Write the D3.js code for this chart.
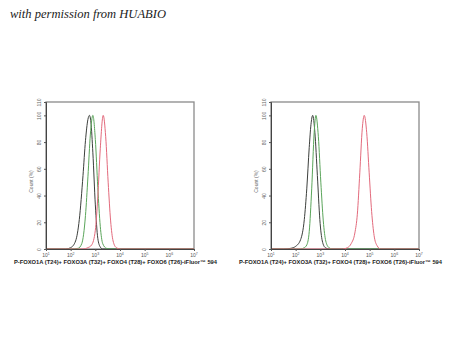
<!DOCTYPE html>
<html><head><meta charset="utf-8">
<script src="https://cdn.jsdelivr.net/npm/d3@7"></script>
<style>body{margin:0;background:#fff}svg{display:block}</style>
</head><body>
<script>
// ---- data (x values are log10 of fluorescence intensity, y = Count %) ----
const titleText = "with permission from HUABIO";
const xAxisTitle = "P-FOXO1A (T24)+ FOXO3A (T32)+ FOXO4 (T28)+ FOXO6 (T26)-iFluor\u2122 594";
const yTicks = [0, 20, 40, 60, 80, 100, 110];
const xTickExps = [1, 2, 3, 4, 5, 6, 7];

// left panel
const leftBlackX = [1.0, 1.8, 2.0, 2.2, 2.35, 2.5, 2.6, 2.7, 2.76, 2.82, 2.9, 3.0, 3.1, 3.2, 3.3, 7.0];
const leftBlackY = [0, 0, 1, 6, 22, 55, 81, 97, 100, 95, 72, 33, 8, 1.5, 0, 0];
const leftGreenX = [1.0, 2.0, 2.3, 2.45, 2.6, 2.7, 2.8, 2.9, 3.0, 3.1, 3.2, 3.3, 3.45, 3.6, 7.0];
const leftGreenY = [0, 0, 0.5, 4, 25, 54, 86, 100, 82, 46, 17, 4, 0.5, 0, 0];
const leftRedX = [1.0, 2.5, 2.7, 2.85, 3.0, 3.1, 3.2, 3.32, 3.42, 3.52, 3.62, 3.72, 3.85, 4.0, 7.0];
const leftRedY = [0, 0, 1, 3, 14, 39, 75, 100, 84, 50, 21, 6, 1, 0, 0];

// right panel
const rightBlackX = [1.0, 1.5, 1.8, 2.0, 2.2, 2.35, 2.45, 2.55, 2.62, 2.69, 2.78, 2.88, 2.98, 3.08, 3.2, 3.35, 7.0];
const rightBlackY = [0, 0, 0.5, 2, 7, 22, 45, 76, 93, 100, 87, 55, 22, 6, 1, 0, 0];
const rightGreenX = [1.0, 2.2, 2.35, 2.45, 2.55, 2.65, 2.75, 2.82, 2.92, 3.02, 3.12, 3.22, 3.35, 3.5, 7.0];
const rightGreenY = [0, 0, 1, 3, 13, 45, 87, 100, 84, 50, 21, 6, 1, 0, 0];
const rightRedX = [1.0, 3.9, 4.1, 4.25, 4.4, 4.5, 4.6, 4.7, 4.78, 4.88, 4.98, 5.08, 5.18, 5.3, 5.45, 7.0];
const rightRedY = [0, 0, 1, 4, 12, 26, 57, 90, 100, 87, 57, 28, 10, 2.5, 0, 0];

const colors = {black: "#3c3f3c", green: "#5aa55a", red: "#e36a7c"};

const panels = [
  {left: 46, series: [
    {x: leftBlackX, y: leftBlackY, c: colors.black},
    {x: leftGreenX, y: leftGreenY, c: colors.green},
    {x: leftRedX, y: leftRedY, c: colors.red}]},
  {left: 271, series: [
    {x: rightBlackX, y: rightBlackY, c: colors.black},
    {x: rightGreenX, y: rightGreenY, c: colors.green},
    {x: rightRedX, y: rightRedY, c: colors.red}]}
];

const W = 450, H = 360;
const svg = d3.select("body").append("svg").attr("width", W).attr("height", H);

svg.append("text").attr("x", 10).attr("y", 18)
  .attr("font-family", "'Liberation Serif', 'DejaVu Serif', serif")
  .attr("font-style", "italic").attr("font-size", 12).attr("fill", "#222")
  .attr("textLength", 156).attr("lengthAdjust", "spacingAndGlyphs")
  .text(titleText);

const plotTop = 102, plotBottom = 249, pw = 148;

panels.forEach(p => {
  const x = d3.scaleLog().domain([10, 1e7]).range([p.left, p.left + pw]);
  const y = d3.scaleLinear().domain([0, 110]).range([plotBottom, plotTop]);
  const g = svg.append("g");

  // frame (top/right)
  g.append("rect").attr("x", p.left).attr("y", plotTop).attr("width", pw).attr("height", plotBottom - plotTop)
    .attr("fill", "none").attr("stroke", "#8a8a8a").attr("stroke-width", 1.3);

  // curves
  const line = d3.line().x(d => x(Math.pow(10, d[0]))).y(d => y(d[1])).curve(d3.curveMonotoneX);
  p.series.forEach(s => {
    const pts = s.x.map((v, i) => [v, s.y[i]]);
    g.append("path").attr("d", line(pts)).attr("fill", "none")
      .attr("stroke", s.c).attr("stroke-width", 1);
  });

  // y axis
  const ya = g.append("g").attr("transform", `translate(${p.left},0)`)
    .call(d3.axisLeft(y).tickValues(yTicks).tickSize(2).tickFormat(d3.format("d")));
  ya.select(".domain").attr("stroke", "#444").attr("stroke-width", 1);
  ya.selectAll(".tick line").attr("stroke", "#555");
  ya.selectAll(".tick text").attr("font-family", "Arial, 'Liberation Sans', sans-serif")
    .attr("font-size", 5).attr("fill", "#666")
    .attr("x", null).attr("dy", null)
    .attr("text-anchor", "middle")
    .attr("transform", "translate(-5,0) rotate(-90)");

  // x axis
  const xa = g.append("g").attr("transform", `translate(0,${plotBottom})`)
    .call(d3.axisBottom(x).tickValues(xTickExps.map(e => Math.pow(10, e))).tickSize(2).tickFormat(""));
  xa.select(".domain").attr("stroke", "#444").attr("stroke-width", 1);
  xa.selectAll(".tick line").attr("stroke", "#555");
  xTickExps.forEach(e => {
    const t = g.append("text").attr("x", x(Math.pow(10, e))).attr("y", 256.5)
      .attr("text-anchor", "middle").attr("font-family", "Arial, 'Liberation Sans', sans-serif")
      .attr("font-size", 5).attr("fill", "#555");
    t.append("tspan").text("10");
    t.append("tspan").attr("font-size", 3.5).attr("dy", -2).text(e);
  });

  // y title
  g.append("text").attr("transform", `translate(${p.left - 13},${(plotTop + plotBottom) / 2 + 6}) rotate(-90)`)
    .attr("text-anchor", "middle").attr("font-family", "Arial, 'Liberation Sans', sans-serif")
    .attr("font-size", 5).attr("fill", "#666").text("Count (%)");

  // x title
  g.append("text").attr("x", p.left - 32).attr("y", 264)
    .attr("font-family", "Arial, 'Liberation Sans', sans-serif").attr("font-weight", "bold")
    .attr("font-size", 5.6).attr("fill", "#222")
    .attr("textLength", 203).attr("lengthAdjust", "spacingAndGlyphs")
    .text(xAxisTitle);
});
</script>
</body></html>
